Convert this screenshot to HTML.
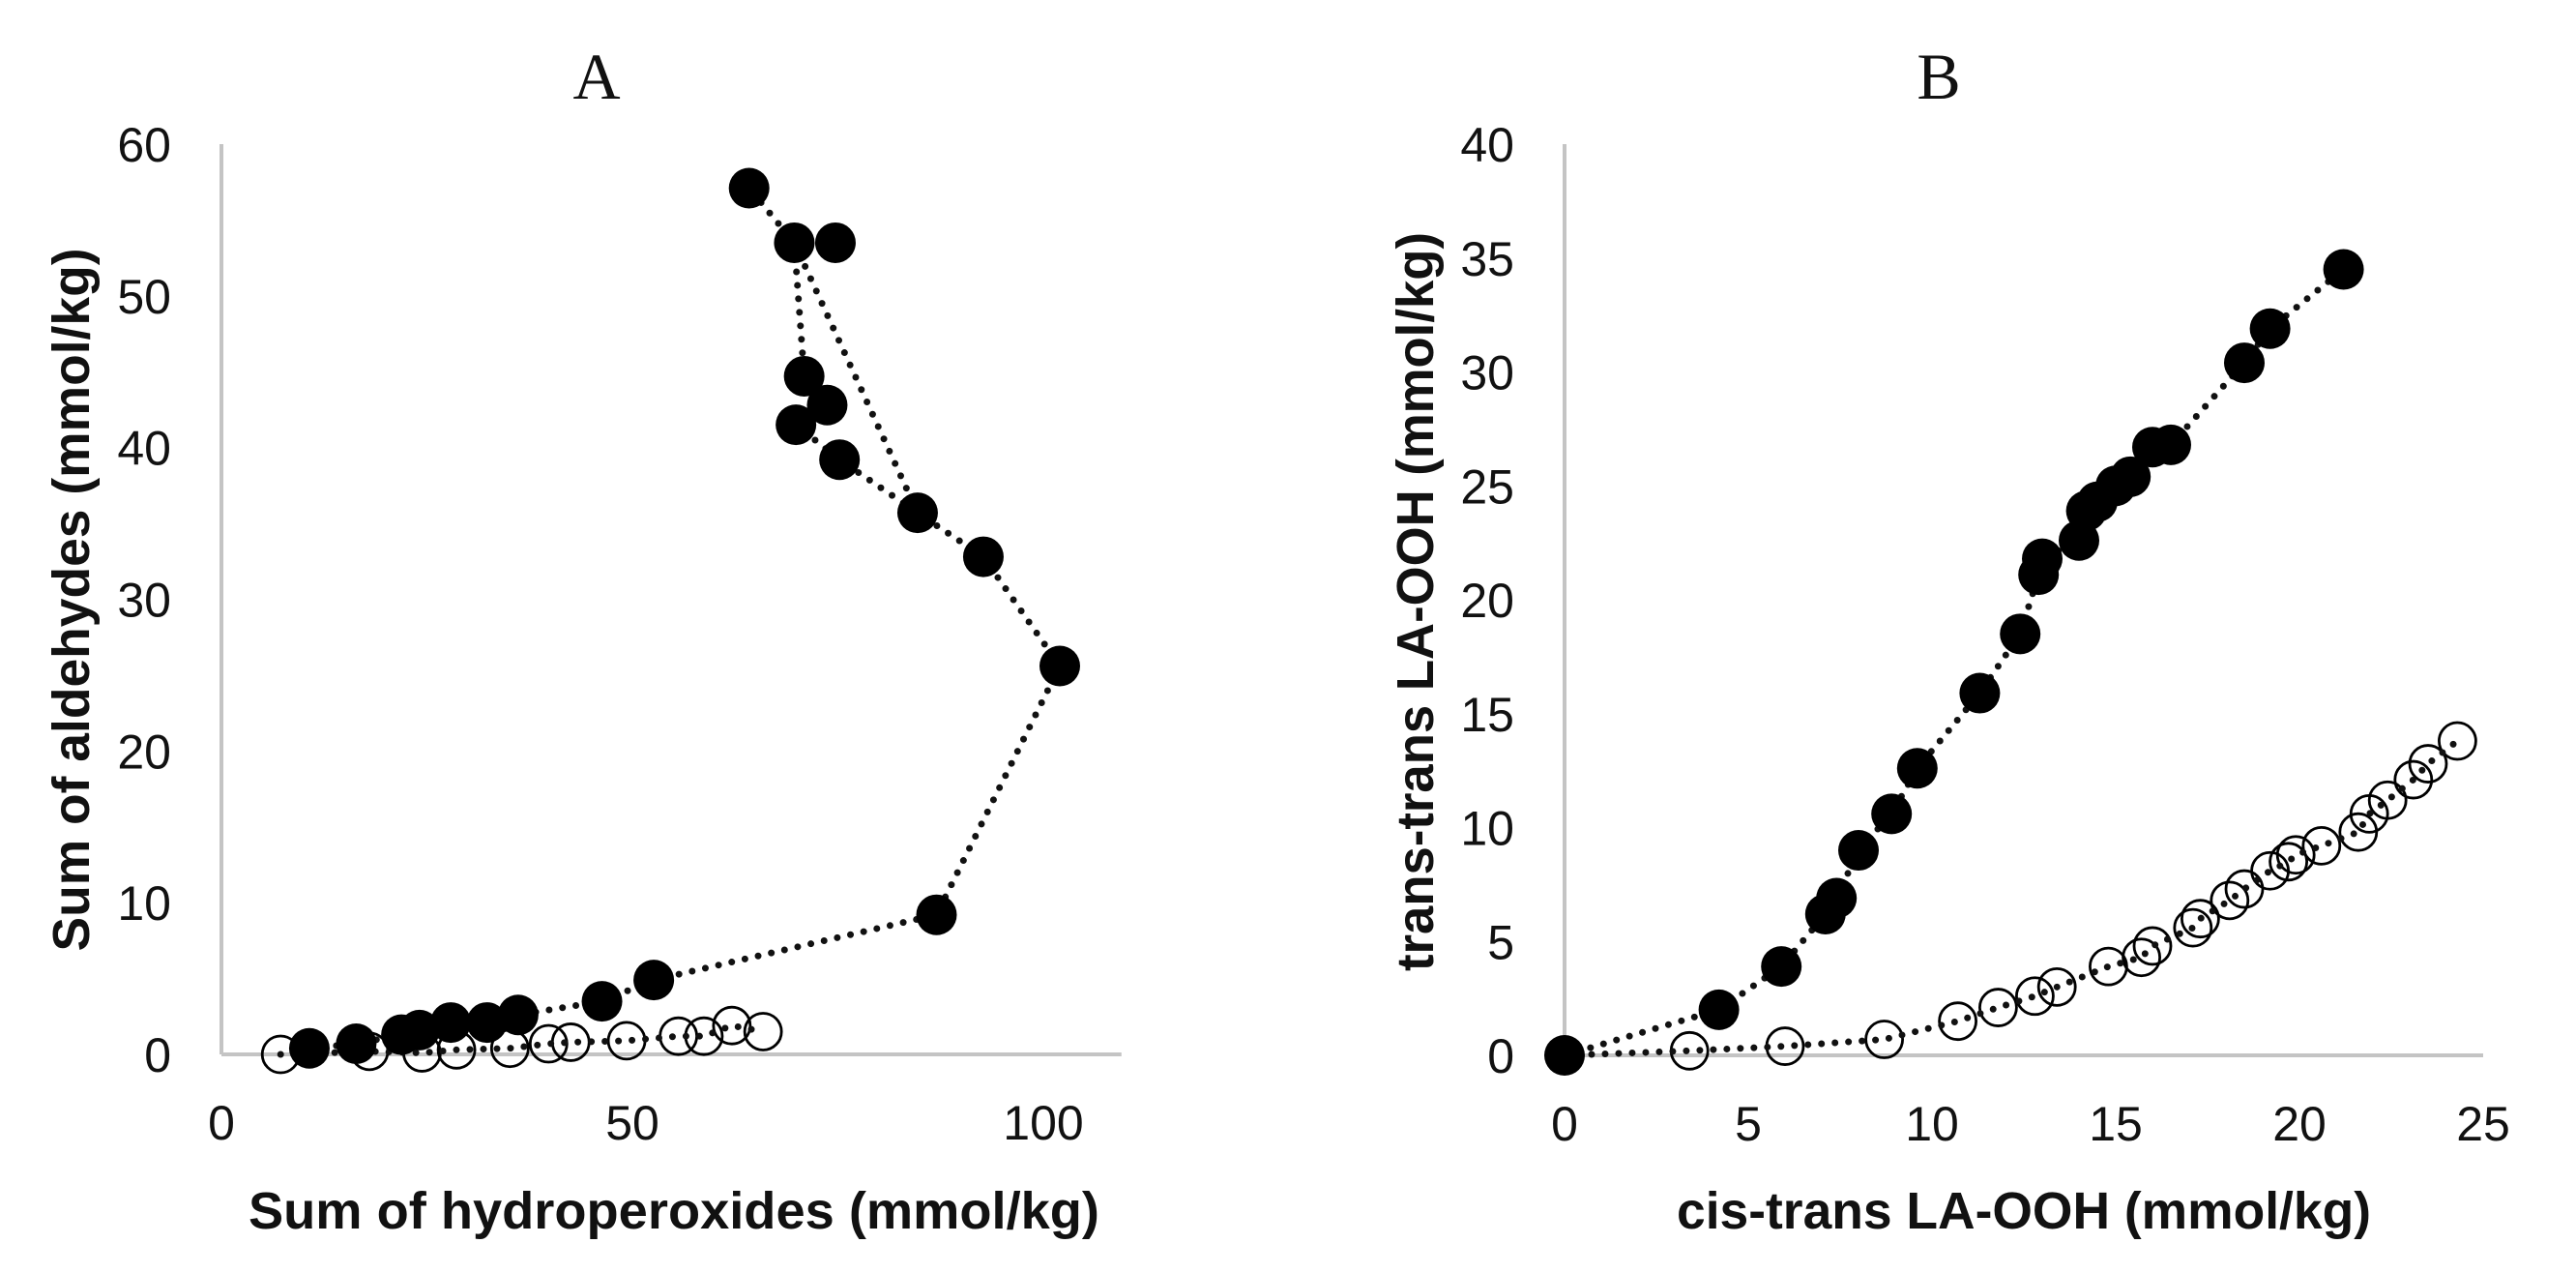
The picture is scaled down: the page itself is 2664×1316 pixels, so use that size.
<!DOCTYPE html>
<html><head><meta charset="utf-8"><style>
html,body{margin:0;padding:0;background:#fff;}
svg{display:block;}
text{font-family:"Liberation Sans",sans-serif;fill:#111;}
</style></head><body>
<svg id="chart" width="2664" height="1316" viewBox="0 0 2664 1316" xmlns="http://www.w3.org/2000/svg">
<text x="617" y="102" font-size="68" text-anchor="middle" style="font-family:'Liberation Serif',serif">A</text>
<text x="2005" y="102" font-size="68" text-anchor="middle" style="font-family:'Liberation Serif',serif">B</text>
<text x="697" y="1270" font-size="54" font-weight="bold" text-anchor="middle" textLength="880" lengthAdjust="spacingAndGlyphs">Sum of hydroperoxides (mmol/kg)</text>
<text transform="translate(92,620) rotate(-90)" font-size="54" font-weight="bold" text-anchor="middle" textLength="727" lengthAdjust="spacingAndGlyphs">Sum of aldehydes (mmol/kg)</text>
<text x="2093" y="1270" font-size="54" font-weight="bold" text-anchor="middle" textLength="718" lengthAdjust="spacingAndGlyphs">cis-trans LA-OOH (mmol/kg)</text>
<text transform="translate(1482,622) rotate(-90)" font-size="54" font-weight="bold" text-anchor="middle" textLength="764" lengthAdjust="spacingAndGlyphs">trans-trans LA-OOH (mmol/kg)</text>
<g id="gA"></g><g id="gB"></g>
</svg>
<script>
const aXTicks=[0,50,100];
const aYTicks=[0,10,20,30,40,50,60];
const aFilledX=[10.7,16.4,21.9,24.1,27.9,32.3,36.1,46.3,52.6,87.0,102.0,92.7,84.7,75.2,69.9,73.7,70.9,69.7,64.2];
const aFilledY=[0.4,0.7,1.3,1.6,2.1,2.1,2.6,3.5,4.9,9.2,25.6,32.8,35.7,39.2,41.5,42.8,44.7,53.5,57.1];
const aBranchX=[84.7,69.7];
const aBranchY=[35.7,53.5];
const aExtraX=[74.7];
const aExtraY=[53.5];
const aOpenX=[7.2,18.0,24.4,28.6,35.1,39.8,42.5,49.3,55.6,58.7,62.1,65.9];
const aOpenY=[0.0,0.2,0.1,0.3,0.4,0.7,0.8,0.9,1.2,1.2,1.9,1.5];
const bXTicks=[0,5,10,15,20,25];
const bYTicks=[0,5,10,15,20,25,30,35,40];
const bFilledX=[0,4.2,5.9,7.1,7.4,8.0,8.9,9.6,11.3,12.4,12.9,13.0,14.0,14.2,14.5,15.0,15.4,16.0,16.5,18.5,19.2,21.2];
const bFilledY=[0,2.0,3.9,6.2,6.9,9.0,10.6,12.6,15.9,18.5,21.1,21.8,22.6,23.9,24.3,25.0,25.4,26.7,26.8,30.4,31.9,34.5];
const bOpenX=[0,3.4,6.0,8.7,10.7,11.8,12.8,13.4,14.8,15.7,16.0,17.1,17.3,18.1,18.5,19.2,19.7,19.9,20.6,21.6,21.9,22.4,23.1,23.5,24.3];
const bOpenY=[0,0.2,0.4,0.7,1.5,2.1,2.6,3.0,3.9,4.3,4.8,5.6,6.0,6.8,7.3,8.1,8.5,8.8,9.2,9.8,10.6,11.2,12.1,12.8,13.8];

const NS="http://www.w3.org/2000/svg";
function mk(g,tag,attrs){const e=document.createElementNS(NS,tag);for(const k in attrs)e.setAttribute(k,attrs[k]);g.appendChild(e);return e;}

function panel(g,x0,x1,xmax,xEnd,y0,y1,ymax,xt,yt,name){
  const sx=v=>x0+(v/xmax)*(x1-x0);
  const sy=v=>y0-(v/ymax)*(y0-y1);
  let ax=mk(g,'line',{x1:x0,y1:y0,x2:sx(xEnd),y2:y0,stroke:'#c4c4c4','stroke-width':4});
  
  
  let ay=mk(g,'line',{x1:x0,y1:y0,x2:x0,y2:y1,stroke:'#c4c4c4','stroke-width':4});
  
  
  xt.forEach(v=>{const t=mk(g,'text',{x:sx(v),y:y0+88,'font-size':50,'text-anchor':'middle'});t.textContent=v;
    
    });
  yt.forEach(v=>{const t=mk(g,'text',{x:x0-52,y:sy(v)+18,'font-size':50,'text-anchor':'end'});t.textContent=v;
    
    });
  return {sx,sy};
}
function line(g,s,X,Y,nm){
  const p=mk(g,'polyline',{points:X.map((v,i)=>s.sx(v)+','+s.sy(Y[i])).join(' '),fill:'none',stroke:'#111','stroke-width':7,'stroke-linecap':'round','stroke-dasharray':'0 14'});
  
  
}
function pts(g,s,X,Y,filled,nm){
  X.forEach((v,i)=>{
    const c=mk(g,'circle',{cx:s.sx(v),cy:s.sy(Y[i]),r:filled?21:19,fill:filled?'#000':'none',stroke:'#000','stroke-width':filled?0:2.8});
    
    
  });
}
const gA=document.getElementById('gA');
const sA=panel(gA,229,1079,100,109.5,1090,149,60,aXTicks,aYTicks,'a');
pts(gA,sA,aOpenX,aOpenY,false,'open-point-a');
line(gA,sA,aOpenX,aOpenY,'open-series-line-a');
line(gA,sA,aFilledX,aFilledY,'filled-series-line-a');
line(gA,sA,aBranchX,aBranchY,'filled-branch-line-a');
pts(gA,sA,aFilledX,aFilledY,true,'filled-point-a');
pts(gA,sA,aExtraX,aExtraY,true,'filled-point-a');
const gB=document.getElementById('gB');
const sB=panel(gB,1618,2568,25,25,1091,149,40,bXTicks,bYTicks,'b');
pts(gB,sB,bOpenX.slice(1),bOpenY.slice(1),false,'open-point-b');
line(gB,sB,bOpenX,bOpenY,'open-series-line-b');
line(gB,sB,bFilledX,bFilledY,'filled-series-line-b');
pts(gB,sB,bFilledX,bFilledY,true,'filled-point-b');
</script>
</body></html>
